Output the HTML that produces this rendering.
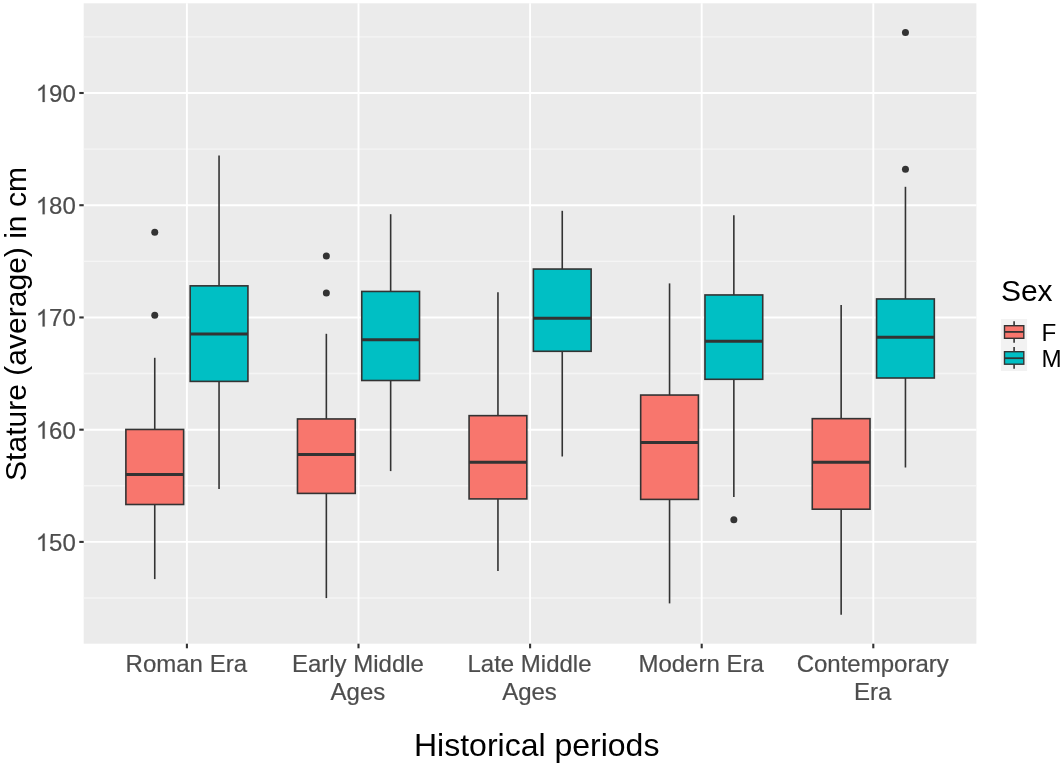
<!DOCTYPE html>
<html><head><meta charset="utf-8"><title>Stature boxplot</title><style>
html,body{margin:0;padding:0;background:#fff;width:1062px;height:767px;overflow:hidden}
svg{display:block;will-change:transform}
text{font-family:"Liberation Sans",sans-serif}
.ax{font-size:24px;fill:#4D4D4D;stroke:#4D4D4D;stroke-width:0.2px}
.tt{font-size:32px;fill:#000}
.yt{font-size:30.05px}
.lt{font-size:30px;fill:#000}
.lg{font-size:24.2px;fill:#000}
</style></head>
<body>
<svg width="1062" height="767" viewBox="0 0 1062 767">
<rect x="0" y="0" width="1062" height="767" fill="#ffffff"/>
<rect x="83.7" y="3.3" width="892.7" height="640.4" fill="#EBEBEB"/>
<line x1="83.7" x2="976.4" y1="598.01" y2="598.01" stroke="#F5F5F5" stroke-width="1.4"/>
<line x1="83.7" x2="976.4" y1="485.79" y2="485.79" stroke="#F5F5F5" stroke-width="1.4"/>
<line x1="83.7" x2="976.4" y1="373.56" y2="373.56" stroke="#F5F5F5" stroke-width="1.4"/>
<line x1="83.7" x2="976.4" y1="261.34" y2="261.34" stroke="#F5F5F5" stroke-width="1.4"/>
<line x1="83.7" x2="976.4" y1="149.11" y2="149.11" stroke="#F5F5F5" stroke-width="1.4"/>
<line x1="83.7" x2="976.4" y1="36.89" y2="36.89" stroke="#F5F5F5" stroke-width="1.4"/>
<line x1="83.7" x2="976.4" y1="541.9" y2="541.9" stroke="#fff" stroke-width="1.9"/>
<line x1="83.7" x2="976.4" y1="429.68" y2="429.68" stroke="#fff" stroke-width="1.9"/>
<line x1="83.7" x2="976.4" y1="317.45" y2="317.45" stroke="#fff" stroke-width="1.9"/>
<line x1="83.7" x2="976.4" y1="205.22" y2="205.22" stroke="#fff" stroke-width="1.9"/>
<line x1="83.7" x2="976.4" y1="93" y2="93" stroke="#fff" stroke-width="1.9"/>
<line x1="186.9" x2="186.9" y1="3.3" y2="643.7" stroke="#fff" stroke-width="1.9"/>
<line x1="358.5" x2="358.5" y1="3.3" y2="643.7" stroke="#fff" stroke-width="1.9"/>
<line x1="530.1" x2="530.1" y1="3.3" y2="643.7" stroke="#fff" stroke-width="1.9"/>
<line x1="701.7" x2="701.7" y1="3.3" y2="643.7" stroke="#fff" stroke-width="1.9"/>
<line x1="873.3" x2="873.3" y1="3.3" y2="643.7" stroke="#fff" stroke-width="1.9"/>
<line x1="154.75" x2="154.75" y1="357.8" y2="429.45" stroke="#333333" stroke-width="1.6"/>
<line x1="154.75" x2="154.75" y1="504.5" y2="579.1" stroke="#333333" stroke-width="1.6"/>
<rect x="125.88" y="429.45" width="57.75" height="75.05" fill="#F8766D" stroke="#333333" stroke-width="1.6"/>
<line x1="125.88" x2="183.62" y1="474.6" y2="474.6" stroke="#333333" stroke-width="3.0"/>
<circle cx="154.75" cy="232.2" r="3.5" fill="#333333"/>
<circle cx="154.75" cy="315.3" r="3.5" fill="#333333"/>
<line x1="219.05" x2="219.05" y1="155.6" y2="285.85" stroke="#333333" stroke-width="1.6"/>
<line x1="219.05" x2="219.05" y1="381.4" y2="489.1" stroke="#333333" stroke-width="1.6"/>
<rect x="190.18" y="285.85" width="57.75" height="95.55" fill="#00BFC4" stroke="#333333" stroke-width="1.6"/>
<line x1="190.18" x2="247.93" y1="334.1" y2="334.1" stroke="#333333" stroke-width="3.0"/>
<line x1="326.35" x2="326.35" y1="333.8" y2="418.95" stroke="#333333" stroke-width="1.6"/>
<line x1="326.35" x2="326.35" y1="493.4" y2="598.1" stroke="#333333" stroke-width="1.6"/>
<rect x="297.48" y="418.95" width="57.75" height="74.45" fill="#F8766D" stroke="#333333" stroke-width="1.6"/>
<line x1="297.48" x2="355.23" y1="454.4" y2="454.4" stroke="#333333" stroke-width="3.0"/>
<circle cx="326.35" cy="255.9" r="3.5" fill="#333333"/>
<circle cx="326.35" cy="292.9" r="3.5" fill="#333333"/>
<line x1="390.65" x2="390.65" y1="214.2" y2="291.45" stroke="#333333" stroke-width="1.6"/>
<line x1="390.65" x2="390.65" y1="380.5" y2="471.1" stroke="#333333" stroke-width="1.6"/>
<rect x="361.77" y="291.45" width="57.75" height="89.05" fill="#00BFC4" stroke="#333333" stroke-width="1.6"/>
<line x1="361.77" x2="419.52" y1="339.7" y2="339.7" stroke="#333333" stroke-width="3.0"/>
<line x1="497.95" x2="497.95" y1="292.2" y2="415.65" stroke="#333333" stroke-width="1.6"/>
<line x1="497.95" x2="497.95" y1="498.9" y2="571.1" stroke="#333333" stroke-width="1.6"/>
<rect x="469.08" y="415.65" width="57.75" height="83.25" fill="#F8766D" stroke="#333333" stroke-width="1.6"/>
<line x1="469.08" x2="526.83" y1="462.3" y2="462.3" stroke="#333333" stroke-width="3.0"/>
<line x1="562.25" x2="562.25" y1="210.8" y2="269.05" stroke="#333333" stroke-width="1.6"/>
<line x1="562.25" x2="562.25" y1="351.3" y2="456.5" stroke="#333333" stroke-width="1.6"/>
<rect x="533.38" y="269.05" width="57.75" height="82.25" fill="#00BFC4" stroke="#333333" stroke-width="1.6"/>
<line x1="533.38" x2="591.12" y1="318.2" y2="318.2" stroke="#333333" stroke-width="3.0"/>
<line x1="669.55" x2="669.55" y1="283.4" y2="395.05" stroke="#333333" stroke-width="1.6"/>
<line x1="669.55" x2="669.55" y1="499.4" y2="603.4" stroke="#333333" stroke-width="1.6"/>
<rect x="640.67" y="395.05" width="57.75" height="104.35" fill="#F8766D" stroke="#333333" stroke-width="1.6"/>
<line x1="640.67" x2="698.42" y1="442.4" y2="442.4" stroke="#333333" stroke-width="3.0"/>
<line x1="733.85" x2="733.85" y1="215.2" y2="294.95" stroke="#333333" stroke-width="1.6"/>
<line x1="733.85" x2="733.85" y1="379.3" y2="496.9" stroke="#333333" stroke-width="1.6"/>
<rect x="704.97" y="294.95" width="57.75" height="84.35" fill="#00BFC4" stroke="#333333" stroke-width="1.6"/>
<line x1="704.97" x2="762.72" y1="341.2" y2="341.2" stroke="#333333" stroke-width="3.0"/>
<circle cx="733.85" cy="519.7" r="3.5" fill="#333333"/>
<line x1="841.15" x2="841.15" y1="305" y2="418.65" stroke="#333333" stroke-width="1.6"/>
<line x1="841.15" x2="841.15" y1="509.2" y2="614.7" stroke="#333333" stroke-width="1.6"/>
<rect x="812.27" y="418.65" width="57.75" height="90.55" fill="#F8766D" stroke="#333333" stroke-width="1.6"/>
<line x1="812.27" x2="870.02" y1="462.2" y2="462.2" stroke="#333333" stroke-width="3.0"/>
<line x1="905.45" x2="905.45" y1="186.8" y2="298.95" stroke="#333333" stroke-width="1.6"/>
<line x1="905.45" x2="905.45" y1="378" y2="467.5" stroke="#333333" stroke-width="1.6"/>
<rect x="876.57" y="298.95" width="57.75" height="79.05" fill="#00BFC4" stroke="#333333" stroke-width="1.6"/>
<line x1="876.57" x2="934.32" y1="337.2" y2="337.2" stroke="#333333" stroke-width="3.0"/>
<circle cx="905.45" cy="32.6" r="3.5" fill="#333333"/>
<circle cx="905.45" cy="169.3" r="3.5" fill="#333333"/>
<line x1="79.3" x2="83.7" y1="541.9" y2="541.9" stroke="#333333" stroke-width="2.1"/>
<line x1="79.3" x2="83.7" y1="429.68" y2="429.68" stroke="#333333" stroke-width="2.1"/>
<line x1="79.3" x2="83.7" y1="317.45" y2="317.45" stroke="#333333" stroke-width="2.1"/>
<line x1="79.3" x2="83.7" y1="205.22" y2="205.22" stroke="#333333" stroke-width="2.1"/>
<line x1="79.3" x2="83.7" y1="93" y2="93" stroke="#333333" stroke-width="2.1"/>
<line x1="186.9" x2="186.9" y1="643.7" y2="648.3" stroke="#333333" stroke-width="2.1"/>
<line x1="358.5" x2="358.5" y1="643.7" y2="648.3" stroke="#333333" stroke-width="2.1"/>
<line x1="530.1" x2="530.1" y1="643.7" y2="648.3" stroke="#333333" stroke-width="2.1"/>
<line x1="701.7" x2="701.7" y1="643.7" y2="648.3" stroke="#333333" stroke-width="2.1"/>
<line x1="873.3" x2="873.3" y1="643.7" y2="648.3" stroke="#333333" stroke-width="2.1"/>
<text x="75.8" y="550.9" text-anchor="end" class="ax">50</text>
<path d="M763 0L583 0L583 1147C540 1106 483 1064 413 1024C342 983 279 953 223 932L223 1106C324 1153 412 1211 488 1279C563 1347 617 1413 648 1477L763 1477Z" transform="translate(35.76,550.9) scale(0.011719,-0.011719)" fill="#4D4D4D" stroke="#4D4D4D" stroke-width="17.1"/>
<text x="75.8" y="438.68" text-anchor="end" class="ax">60</text>
<path d="M763 0L583 0L583 1147C540 1106 483 1064 413 1024C342 983 279 953 223 932L223 1106C324 1153 412 1211 488 1279C563 1347 617 1413 648 1477L763 1477Z" transform="translate(35.76,438.68) scale(0.011719,-0.011719)" fill="#4D4D4D" stroke="#4D4D4D" stroke-width="17.1"/>
<text x="75.8" y="326.45" text-anchor="end" class="ax">70</text>
<path d="M763 0L583 0L583 1147C540 1106 483 1064 413 1024C342 983 279 953 223 932L223 1106C324 1153 412 1211 488 1279C563 1347 617 1413 648 1477L763 1477Z" transform="translate(35.76,326.45) scale(0.011719,-0.011719)" fill="#4D4D4D" stroke="#4D4D4D" stroke-width="17.1"/>
<text x="75.8" y="214.22" text-anchor="end" class="ax">80</text>
<path d="M763 0L583 0L583 1147C540 1106 483 1064 413 1024C342 983 279 953 223 932L223 1106C324 1153 412 1211 488 1279C563 1347 617 1413 648 1477L763 1477Z" transform="translate(35.76,214.22) scale(0.011719,-0.011719)" fill="#4D4D4D" stroke="#4D4D4D" stroke-width="17.1"/>
<text x="75.8" y="102" text-anchor="end" class="ax">90</text>
<path d="M763 0L583 0L583 1147C540 1106 483 1064 413 1024C342 983 279 953 223 932L223 1106C324 1153 412 1211 488 1279C563 1347 617 1413 648 1477L763 1477Z" transform="translate(35.76,102) scale(0.011719,-0.011719)" fill="#4D4D4D" stroke="#4D4D4D" stroke-width="17.1"/>
<text x="186.3" y="671.9" text-anchor="middle" class="ax">Roman Era</text>
<text x="357.9" y="671.9" text-anchor="middle" class="ax">Early Middle</text>
<text x="357.9" y="699.5" text-anchor="middle" class="ax">Ages</text>
<text x="529.5" y="671.9" text-anchor="middle" class="ax">Late Middle</text>
<text x="529.5" y="699.5" text-anchor="middle" class="ax">Ages</text>
<text x="701.1" y="671.9" text-anchor="middle" class="ax">Modern Era</text>
<text x="872.7" y="671.9" text-anchor="middle" class="ax">Contemporary</text>
<text x="872.7" y="699.5" text-anchor="middle" class="ax">Era</text>
<text x="536.7" y="756.2" text-anchor="middle" class="tt">Historical periods</text>
<text transform="translate(25.8,324) rotate(-90)" x="0" y="0" text-anchor="middle" class="tt yt">Stature (average) in cm</text>
<text x="1000.9" y="301.4" class="lt">Sex</text>
<rect x="1000.9" y="319" width="26.2" height="52" fill="#F2F2F2"/>
<line x1="1014.1" x2="1014.1" y1="321.2" y2="342.7" stroke="#333333" stroke-width="1.6"/>
<rect x="1004.5" y="325.7" width="19.3" height="12.6" fill="#F8766D" stroke="#333333" stroke-width="1.4"/>
<line x1="1004.5" x2="1023.8" y1="331.9" y2="331.9" stroke="#333333" stroke-width="1.8"/>
<line x1="1014.1" x2="1014.1" y1="347.1" y2="368.8" stroke="#333333" stroke-width="1.6"/>
<rect x="1004.5" y="351.7" width="19.3" height="12.5" fill="#00BFC4" stroke="#333333" stroke-width="1.4"/>
<line x1="1004.5" x2="1023.8" y1="358.2" y2="358.2" stroke="#333333" stroke-width="1.8"/>
<text x="1041.5" y="340.8" class="lg">F</text>
<text x="1041.5" y="366.7" class="lg">M</text>
</svg>
</body></html>
